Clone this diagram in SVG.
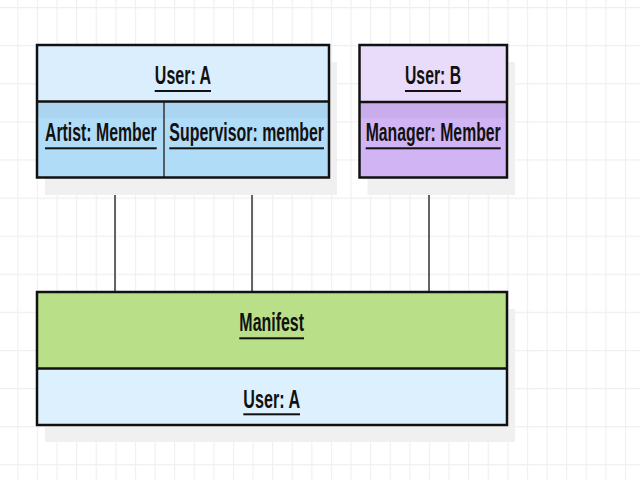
<svg xmlns="http://www.w3.org/2000/svg" width="640" height="480" viewBox="0 0 640 480">
<defs>
<pattern id="grid" patternUnits="userSpaceOnUse" x="17.3" y="7" width="19.6" height="38.1">
<path d="M0.5 0V38.1M0 0.5H19.6" stroke="#efefef" stroke-width="1.2" fill="none"/>
</pattern>
<style>
.t{font-family:"Liberation Sans",Arial,sans-serif;font-weight:bold;font-size:15.5px;fill:#111;text-anchor:middle}
.ul{fill:#111}
.box{stroke:#111;stroke-width:2.5;fill:none}
.div{stroke:#111;stroke-width:2.5}
.sh{fill:#f0f0f0}
.conn{stroke:#333;stroke-width:1.5;fill:none}
</style>
</defs>
<rect width="640" height="480" fill="#fff"/>
<rect width="640" height="480" fill="url(#grid)"/>

<g id="connectors">
<line class="conn" x1="115" y1="178" x2="115" y2="292"/>
<line class="conn" x1="252" y1="178" x2="252" y2="292"/>
<line class="conn" x1="429" y1="178" x2="429" y2="292"/>
</g>

<g id="userA">
<rect class="sh" x="45" y="62" width="292" height="133"/>
<rect x="37" y="45" width="292" height="56.5" fill="#dbeefd"/>
<rect x="37" y="101.5" width="292" height="76" fill="#b1dcf8"/>
<rect x="37" y="101.5" width="292" height="16.5" fill="#000" fill-opacity="0.035"/>
<line x1="164" y1="101.5" x2="164" y2="177.5" stroke="#333" stroke-width="1.5"/>
<line class="div" x1="37" y1="101.5" x2="329" y2="101.5"/>
<rect class="box" x="37" y="45" width="292" height="132.5"/>
<text class="t" transform="translate(183,84.3) scale(1,1.72)" textLength="56.3" lengthAdjust="spacingAndGlyphs">User: A</text>
<rect class="ul" x="154.7" y="90" width="56.3" height="2"/>
<text class="t" transform="translate(100.8,140.7) scale(1,1.72)" textLength="111.7" lengthAdjust="spacingAndGlyphs">Artist: Member</text>
<rect class="ul" x="45" y="147.3" width="111.7" height="2"/>
<text class="t" transform="translate(246.7,140.7) scale(1,1.72)" textLength="154.7" lengthAdjust="spacingAndGlyphs">Supervisor: member</text>
<rect class="ul" x="169.3" y="147.3" width="154.7" height="2"/>
</g>

<g id="userB">
<rect class="sh" x="367.5" y="62" width="147.5" height="133"/>
<rect x="359.5" y="45" width="147.5" height="57" fill="#e9dcfb"/>
<rect x="359.5" y="102" width="147.5" height="75.5" fill="#d1b4f4"/>
<rect x="359.5" y="102" width="147.5" height="16" fill="#000" fill-opacity="0.035"/>
<line class="div" x1="359.5" y1="102" x2="507" y2="102"/>
<rect class="box" x="359.5" y="45" width="147.5" height="132.5"/>
<text class="t" transform="translate(433,84.3) scale(1,1.72)" textLength="56" lengthAdjust="spacingAndGlyphs">User: B</text>
<rect class="ul" x="405" y="90" width="56" height="2"/>
<text class="t" transform="translate(433.2,140.7) scale(1,1.72)" textLength="135" lengthAdjust="spacingAndGlyphs">Manager: Member</text>
<rect class="ul" x="365.7" y="147.3" width="135" height="2"/>
</g>

<g id="manifest">
<rect class="sh" x="45" y="309" width="470" height="133"/>
<rect x="37" y="292" width="470" height="76.5" fill="#b9df88"/>
<rect x="37" y="368.5" width="470" height="56.5" fill="#dcf0fd"/>
<line class="div" x1="37" y1="368.5" x2="507" y2="368.5"/>
<rect class="box" x="37" y="292" width="470" height="133"/>
<text class="t" transform="translate(271.7,331) scale(1,1.72)" textLength="64.7" lengthAdjust="spacingAndGlyphs">Manifest</text>
<rect class="ul" x="239.3" y="337.3" width="64.7" height="2"/>
<text class="t" transform="translate(271.7,408.3) scale(1,1.72)" textLength="56.7" lengthAdjust="spacingAndGlyphs">User: A</text>
<rect class="ul" x="243.3" y="413.3" width="56.7" height="2"/>
</g>
</svg>
